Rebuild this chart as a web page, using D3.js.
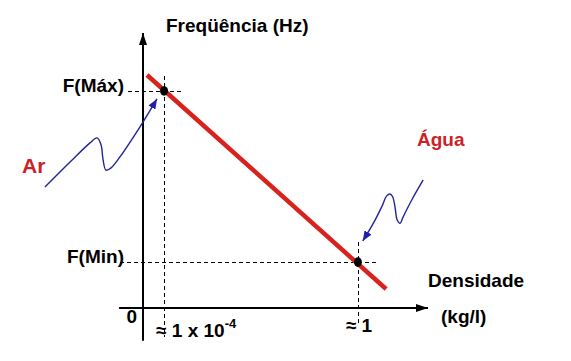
<!DOCTYPE html>
<html><head><meta charset="utf-8">
<script src="https://cdn.jsdelivr.net/npm/d3@7"></script>
<style>
body{margin:0;background:#fff}
svg{display:block}
text{font-family:"Liberation Sans",Arial,Helvetica,sans-serif;font-weight:bold}
</style>
</head><body>
<svg id="c" width="571" height="361"></svg>
<script>
// ---- data (arbitrary units: density on x, frequency on y) ----
const yAxisTitle = "Freqüência (Hz)";
const xAxisTitle = ["Densidade", "(kg/l)"];
const originLabel = "0";
const seriesNames = ["Ar", "Água"];
const lineX = [1.4, 85.3];
const lineY = [84.7, 6.8];
const pointX = [7.4, 75.4];
const pointY = [78.9, 16.6];
const xTickMain = ["≈ 1 x 10", "≈ 1"];
const xTickSup = ["-4", ""];
const yTickLabels = ["F(Máx)", "F(Min)"];
// hand-drawn pointer arrows (Ar -> first point, Água -> second point)
const arCurveX = [-34.4, -25.6, -18.6, -16.1, -14.7, -14.0, -13.0, -11.2, -8.1, 0.0, 4.9];
const arCurveY = [43.9, 53.0, 60.0, 61.8, 59.2, 53.8, 50.1, 50.9, 54.9, 67.6, 76.0];
const aguaCurveX = [98.3, 94.3, 91.3, 90.2, 89.2, 88.4, 87.6, 86.7, 85.5, 83.8, 80.8, 77.1];
const aguaCurveY = [46.5, 39.2, 33.1, 30.7, 31.9, 36.8, 40.4, 41.4, 40.7, 36.8, 30.7, 24.3];

// ---- scales ----
const x = d3.scaleLinear().domain([0, 100]).range([143, 428]);
const y = d3.scaleLinear().domain([0, 100]).range([307.7, 33]);

const svg = d3.select("#c");
const defs = svg.append("defs");
defs.append("marker").attr("id", "axArrow").attr("markerUnits", "userSpaceOnUse")
  .attr("viewBox", "0 0 12 8").attr("refX", 12).attr("refY", 4)
  .attr("markerWidth", 12).attr("markerHeight", 8).attr("orient", "auto")
  .append("path").attr("d", "M0,0 L12,4 L0,8 Z").attr("fill", "#000");
defs.append("marker").attr("id", "blueArrow").attr("markerUnits", "userSpaceOnUse")
  .attr("viewBox", "0 0 10 8").attr("refX", 10).attr("refY", 4)
  .attr("markerWidth", 10).attr("markerHeight", 8).attr("orient", "auto")
  .append("path").attr("d", "M0,0 L10,4 L0,8 Z").attr("fill", "#1f1fa8");

const x0 = x(0), y0 = y(0);
const snap = v => Math.round(v) + 0.5;

// dashed guide lines
const g = svg.append("g").attr("stroke", "#000").attr("stroke-width", 1)
  .attr("stroke-dasharray", "4,3").attr("shape-rendering", "crispEdges");
const hExt = [[x0 - 15, 17], [x0 - 23, 18]];
const vExt = [[-15, y0 + 29], [-20, y0 + 15]];
pointX.forEach((px, i) => {
  const cx = x(px), cy = y(pointY[i]);
  g.append("line").attr("x1", hExt[i][0]).attr("x2", cx + hExt[i][1]).attr("y1", snap(cy)).attr("y2", snap(cy));
  g.append("line").attr("x1", snap(cx)).attr("x2", snap(cx)).attr("y1", cy + vExt[i][0]).attr("y2", vExt[i][1]);
});

// axes
svg.append("line").attr("x1", x0).attr("x2", x0).attr("y1", y(-12)).attr("y2", y(100))
  .attr("stroke", "#000").attr("stroke-width", 2).attr("marker-end", "url(#axArrow)");
svg.append("line").attr("x1", x(-8.4)).attr("x2", x(100)).attr("y1", Math.round(y0)).attr("y2", Math.round(y0))
  .attr("stroke", "#000").attr("stroke-width", 2).attr("marker-end", "url(#axArrow)");

// red line
svg.append("path").datum(lineX.map((d, i) => [d, lineY[i]]))
  .attr("d", d3.line().x(d => x(d[0])).y(d => y(d[1])))
  .attr("stroke", "#d8221e").attr("stroke-width", 4.5).attr("fill", "none");

// points
svg.selectAll("ellipse.pt").data(pointX).join("ellipse").attr("class", "pt")
  .attr("cx", d => x(d)).attr("cy", (d, i) => y(pointY[i])).attr("rx", 4).attr("ry", 4.8).attr("fill", "#000");

// blue pointer curves
const curve = d3.line().x(d => x(d[0])).y(d => y(d[1])).curve(d3.curveCatmullRom.alpha(0.5));
[[arCurveX, arCurveY], [aguaCurveX, aguaCurveY]].forEach(([cx, cy]) => {
  svg.append("path").datum(cx.map((d, i) => [d, cy[i]])).attr("d", curve)
    .attr("stroke", "#23239a").attr("stroke-width", 1.4).attr("fill", "none")
    .attr("marker-end", "url(#blueArrow)");
});

// texts
const fs = 19;
svg.append("text").attr("x", 166).attr("y", 32).attr("font-size", fs).text(yAxisTitle);
svg.append("text").attr("x", 428).attr("y", 287).attr("font-size", fs).text(xAxisTitle[0]);
svg.append("text").attr("x", 441).attr("y", 323).attr("font-size", fs).text(xAxisTitle[1]);
svg.append("text").attr("x", x0 - 6).attr("y", 323).attr("text-anchor", "end").attr("font-size", fs).text(originLabel);

yTickLabels.forEach((t, i) => {
  svg.append("text").attr("x", x0 - 19).attr("y", y(pointY[i]) + 1)
    .attr("text-anchor", "end").attr("font-size", fs).text(t);
});

const xTickBase = [337, 332];
const xTickOff = [-8, -12];
xTickMain.forEach((t, i) => {
  const tx = svg.append("text").attr("x", x(pointX[i]) + xTickOff[i]).attr("y", xTickBase[i]).attr("font-size", fs);
  tx.append("tspan").text(t);
  if (xTickSup[i]) tx.append("tspan").attr("font-size", 13).attr("dy", -9).text(xTickSup[i]);
});

// series labels (red)
svg.append("text").attr("x", 22).attr("y", 173).attr("font-size", 21).attr("fill", "#cc1f26").text(seriesNames[0]);
svg.append("text").attr("x", 417).attr("y", 146).attr("font-size", 19).attr("fill", "#cc1f26").text(seriesNames[1]);
</script>
</body></html>
